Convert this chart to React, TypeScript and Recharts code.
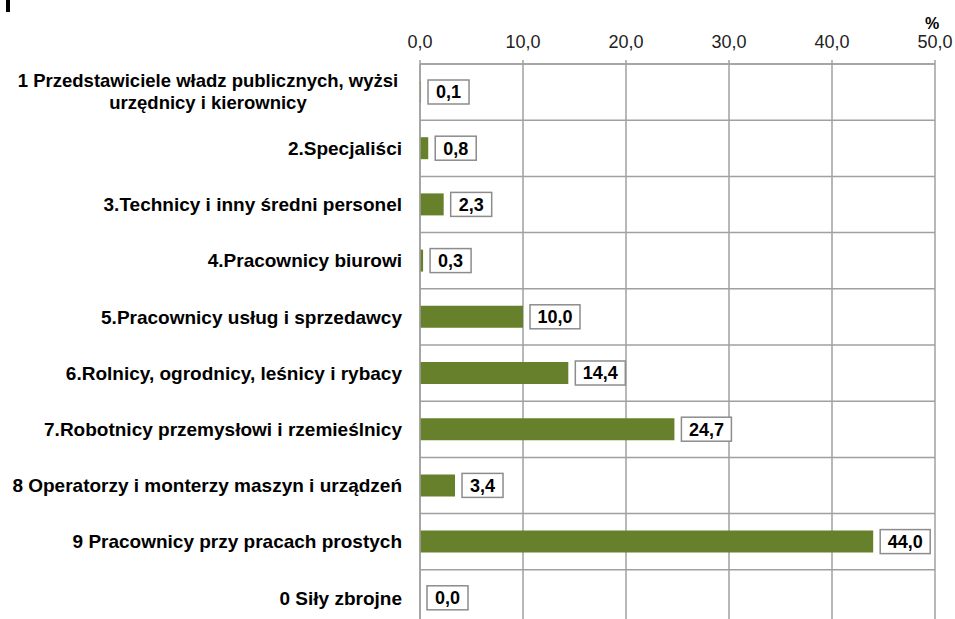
import React from 'react';
import { BarChart, Bar, XAxis, YAxis, CartesianGrid, Rectangle } from 'recharts';

const categories = [
  '1 Przedstawiciele władz publicznych, wyżsi|urzędnicy i kierownicy',
  '2.Specjaliści',
  '3.Technicy i inny średni personel',
  '4.Pracownicy biurowi',
  '5.Pracownicy usług i sprzedawcy',
  '6.Rolnicy, ogrodnicy, leśnicy i rybacy',
  '7.Robotnicy przemysłowi i rzemieślnicy',
  '8 Operatorzy i monterzy maszyn i urządzeń',
  '9 Pracownicy przy pracach prostych',
  '0 Siły zbrojne',
];
const values = [0.1, 0.8, 2.3, 0.3, 10.0, 14.4, 24.7, 3.4, 44.0, 0.0];
const xTicks = [0, 10, 20, 30, 40, 50];

const data = categories.map((name, i) => ({ name, value: values[i] }));

const FONT = '"Liberation Sans", Arial, sans-serif';
const GRID = '#a0a0a0';
const BAR = '#66802b';
const fmt = (v: number) => v.toFixed(1).replace('.', ',');

const CategoryTick = (props: any) => {
  const { x, y, payload } = props;
  const lines: string[] = String(payload.value).split('|');
  if (lines.length > 1) {
    return (
      <g>
        {lines.map((l, i) => (
          <text key={i} x={x - 194} y={y - 12 + i * 22} dy="0.35em" textAnchor="middle"
            fontFamily={FONT} fontWeight="bold" fontSize={18.5} fill="#000">
            {l}
          </text>
        ))}
      </g>
    );
  }
  return (
    <text x={x} y={y} dy="0.35em" textAnchor="end" fontFamily={FONT} fontWeight="bold" fontSize={19} fill="#000">
      {lines[0]}
    </text>
  );
};

// bar plus its boxed value label (drawn here so zero-length bars still get a label)
const BarWithBox = (props: any) => {
  const { x, y, width, height, value } = props;
  const v = Array.isArray(value) ? value[1] - value[0] : value;
  const txt = fmt(Number(v));
  const w = 14 + txt.length * 9;
  const bx = x + Math.max(width, 0) + 7;
  const cy = y + height / 2;
  return (
    <g>
      {width > 0 && <Rectangle x={x} y={y} width={width} height={height} fill={BAR} />}
      <rect x={bx} y={cy - 12} width={w} height={24} fill="#fff" stroke="#8c8c8c" strokeWidth={1.5} />
      <text x={bx + w / 2} y={cy} dy="0.36em" textAnchor="middle" fontFamily={FONT} fontWeight="bold" fontSize={18} fill="#000">
        {txt}
      </text>
    </g>
  );
};

export default function App() {
  return (
    <div style={{ position: 'absolute', left: 0, top: 0, width: 955, height: 619, overflow: 'hidden', background: '#fff' }}>
      <div style={{ position: 'absolute', left: 6, top: 0, width: 4, height: 12, background: '#000' }} />
      <div style={{ position: 'absolute', left: 925, top: 15, fontFamily: FONT, fontWeight: 'bold', fontSize: 16 }}>%</div>
      <BarChart
        width={955}
        height={632}
        data={data}
        layout="vertical"
        margin={{ top: 24, right: 20, bottom: 6, left: 0 }}
      >
        <CartesianGrid
          stroke={GRID}
          strokeWidth={1.5}
          horizontalCoordinatesGenerator={({ offset }: any) =>
            categories.map((_, i) => offset.top + (i * offset.height) / categories.length).concat(offset.top + offset.height)
          }
        />
        <XAxis
          type="number"
          orientation="top"
          domain={[0, 50]}
          ticks={xTicks}
          tickFormatter={fmt}
          height={40}
          axisLine={{ stroke: GRID, strokeWidth: 1.5 }}
          tickLine={{ stroke: GRID, strokeWidth: 1.5 }}
          tickSize={4}
          tickMargin={12}
          tick={{ fontFamily: FONT, fontSize: 18, fill: '#222' }}
        />
        <YAxis
          type="category"
          dataKey="name"
          width={420}
          axisLine={{ stroke: GRID, strokeWidth: 1.5 }}
          tickLine={false}
          tickSize={0}
          tickMargin={18}
          tick={<CategoryTick />}
          interval={0}
        />
        <Bar dataKey="value" fill={BAR} barSize={22} isAnimationActive={false} shape={<BarWithBox />} />
      </BarChart>
    </div>
  );
}
